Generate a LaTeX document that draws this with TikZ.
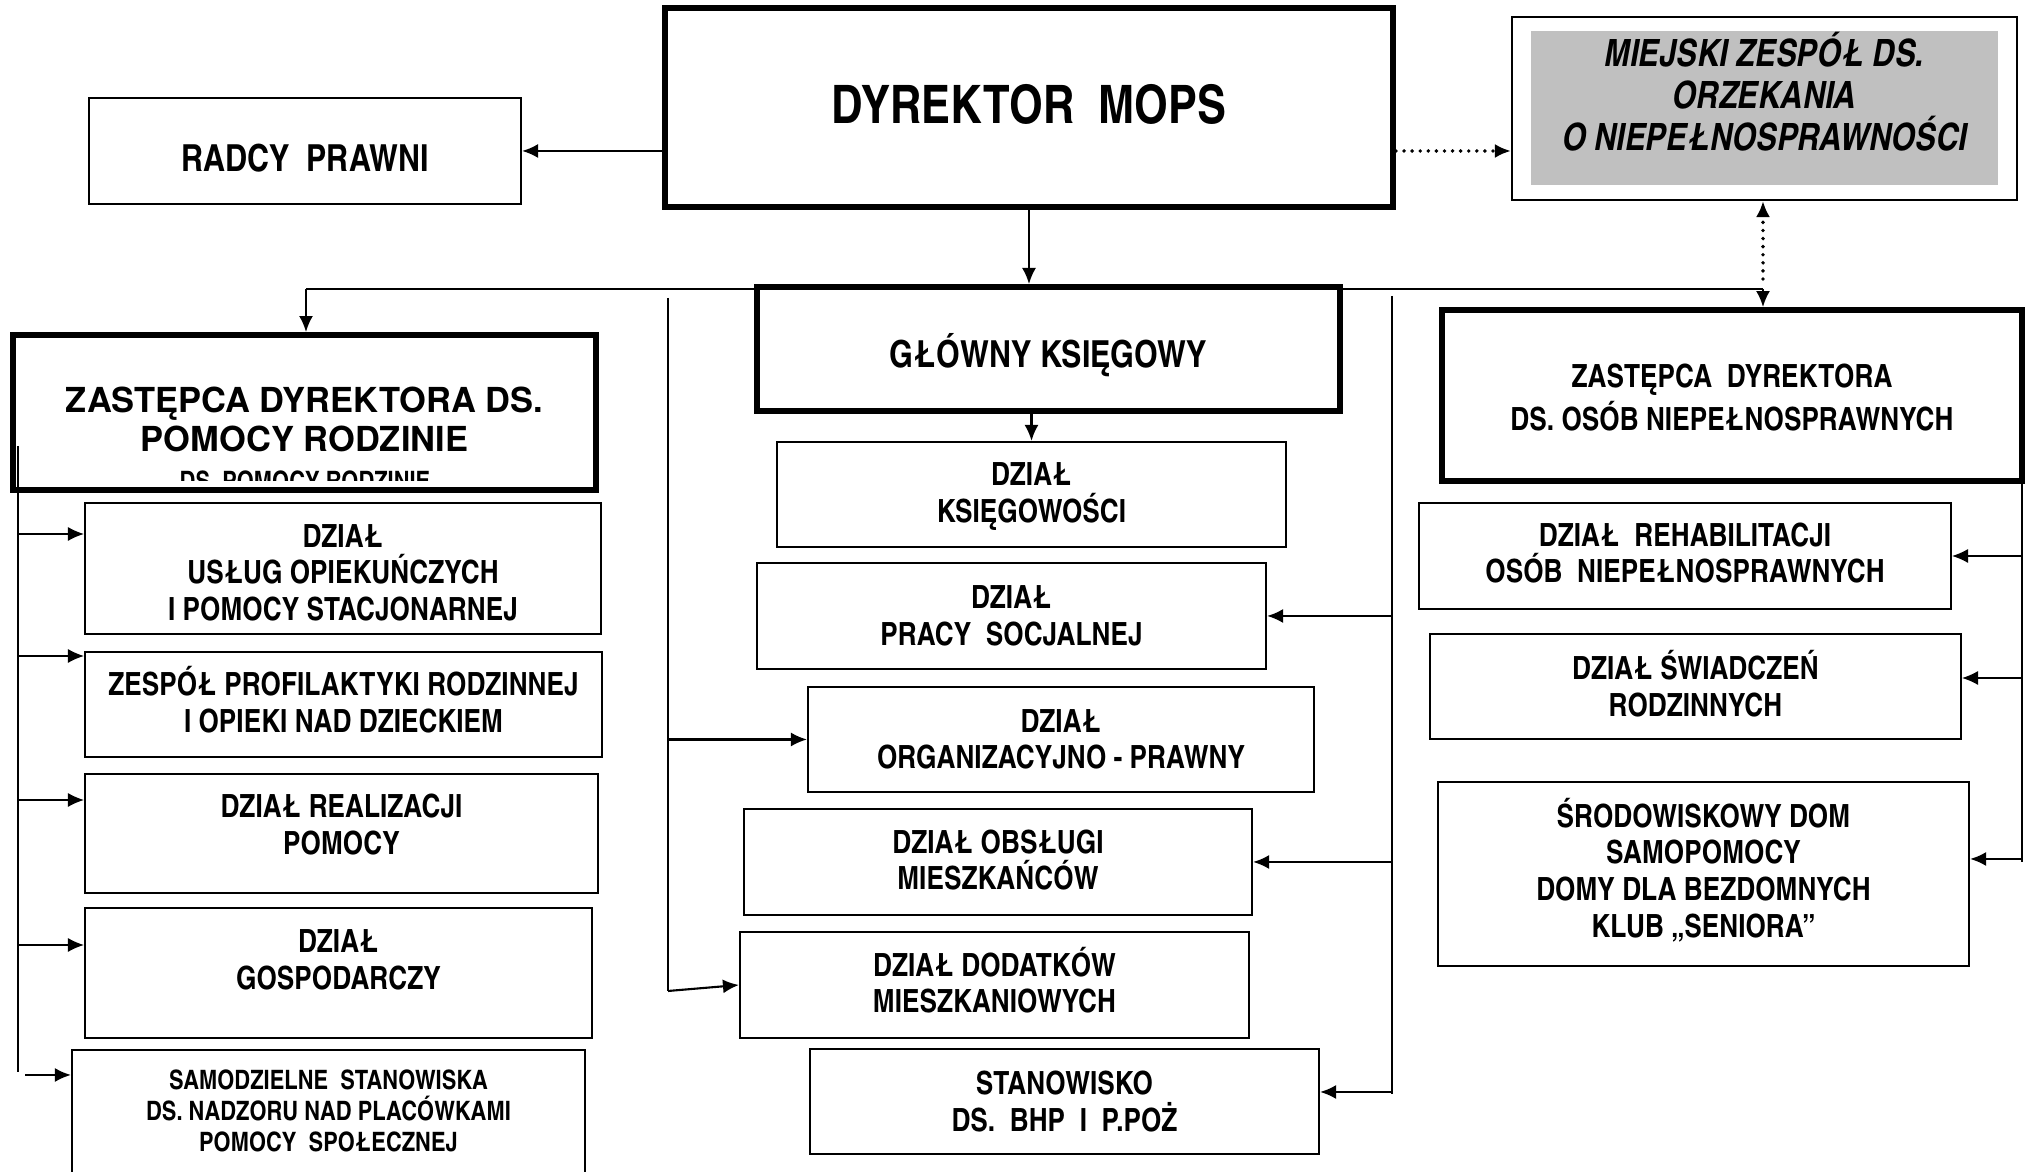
\documentclass[tikz,border=0pt]{standalone}
\usepackage{fontspec}
\setmainfont{texgyreheros}[Extension=.otf,UprightFont=*-regular,BoldFont=*-bold,ItalicFont=*-italic,BoldItalicFont=*-bolditalic]
\newfontfamily\cnfont{texgyreheroscn}[Extension=.otf,UprightFont=*-regular,BoldFont=*-bold,ItalicFont=*-italic,BoldItalicFont=*-bolditalic]
\usetikzlibrary{fit,arrows.meta}
\definecolor{panelgray}{RGB}{192,192,192}
\newcommand\txtnorm{\cnfont\bfseries\fontsize{9.1}{10.4}\selectfont}
\newcommand\txtmid{\cnfont\bfseries\fontsize{10.6}{12}\selectfont}
\newcommand\txtbig{\cnfont\bfseries\fontsize{15.1}{17}\selectfont}
\newcommand\txtsmall{\cnfont\bfseries\fontsize{7.6}{8.8}\selectfont}
\newcommand\txtwide{\bfseries\fontsize{9.8}{11.1}\selectfont}
\newcommand\txtital{\cnfont\bfseries\itshape\fontsize{10.7}{12}\selectfont}
\tikzset{
  box/.style={draw,line width=0.6pt,inner sep=0pt},
  bigbox/.style={box,line width=1.7pt},
  label text/.style={inner sep=0pt,align=center},
  every label/.style={label text,font=\txtnorm},
  link/.style={line width=0.6pt,->},
  thinlink/.style={line width=0.35pt,->},
  dotlink/.style={line width=1.1pt,dash pattern=on 0pt off 2.3pt,line cap=round,->}
}
\begin{document}
\begin{tikzpicture}[x=0.1mm,y=-0.1mm,>={Latex[length=1.6mm,width=1.4mm]}]
\useasboundingbox (0,0) rectangle (2026,1172);
\clip (0,0) rectangle (2026,1172);
\node[bigbox,fit={(665,8) (1393,207)},label={[yshift=0.3mm,font=\txtbig]center:{DYREKTOR~~MOPS}}] (dyr) {};
\node[box,fit={(89,98) (521,204)},label={[yshift=-0.7mm,font=\txtmid]center:{RADCY~~PRAWNI}}] (radcy) {};
\fill[panelgray] (1531,31) rectangle (1998,185);
\node[box,fit={(1512,17) (2017,200)},label={[yshift=1.7mm,font=\txtital]center:{MIEJSKI ZESPÓŁ DS.\\ORZEKANIA\\O NIEPEŁNOSPRAWNOŚCI}}] (miejski) {};
\node[bigbox,fit={(13,335) (596,490)},label={[yshift=-0.7mm,font=\txtwide]center:{ZASTĘPCA DYREKTORA DS.\\POMOCY RODZINIE}}] (zastpr) {};
\begin{scope}
\clip (150,465) rectangle (460,481);
\node[label text,font=\txtsmall,anchor=base] (zastprcut) at (305,491) {DS. POMOCY RODZINIE};
\end{scope}
\node[bigbox,fit={(757,287) (1340,411)},label={[yshift=-0.6mm,font=\txtmid]center:{GŁÓWNY KSIĘGOWY}}] (glowny) {};
\node[bigbox,fit={(1442,310) (2022,481)},label={[yshift=-0.2mm,font=\cnfont\bfseries\fontsize{9.1}{12.5}\selectfont]center:{ZASTĘPCA~~DYREKTORA\\DS. OSÓB NIEPEŁNOSPRAWNYCH}}] (zastnd) {};
\node[box,fit={(85,503) (601,634)},label={[yshift=-0.4mm]center:{DZIAŁ\\USŁUG OPIEKUŃCZYCH\\I POMOCY STACJONARNEJ}}] (uslug) {};
\node[box,fit={(85,652) (602,757)},label={[yshift=0.5mm]center:{ZESPÓŁ PROFILAKTYKI RODZINNEJ\\I OPIEKI NAD DZIECKIEM}}] (zesp) {};
\node[box,fit={(85,774) (598,893)},label={[yshift=0.9mm]center:{DZIAŁ REALIZACJI\\POMOCY}}] (real) {};
\node[box,fit={(85,908) (592,1038)},label={[yshift=1.3mm]center:{DZIAŁ\\GOSPODARCZY}}] (gosp) {};
\node[box,fit={(72,1050) (585,1180)},label={[yshift=0.4mm,font=\txtsmall]center:{SAMODZIELNE~~STANOWISKA\\DS. NADZORU NAD PLACÓWKAMI\\POMOCY~~SPOŁECZNEJ}}] (samodz) {};
\node[box,fit={(777,442) (1286,547)},label={[yshift=-0.2mm]center:{DZIAŁ\\KSIĘGOWOŚCI}}] (ksieg) {};
\node[box,fit={(757,563) (1266,669)},label={center:{DZIAŁ\\PRACY~~SOCJALNEJ}}] (pracy) {};
\node[box,fit={(808,687) (1314,792)},label={center:{DZIAŁ\\ORGANIZACYJNO - PRAWNY}}] (org) {};
\node[box,fit={(744,809) (1252,915)},label={[yshift=0.2mm]center:{DZIAŁ OBSŁUGI\\MIESZKAŃCÓW}}] (obsl) {};
\node[box,fit={(740,932) (1249,1038)},label={[yshift=0.5mm]center:{DZIAŁ DODATKÓW\\MIESZKANIOWYCH}}] (dod) {};
\node[box,fit={(810,1049) (1319,1154)},label={center:{STANOWISKO\\DS.~~BHP~~I~~P.POŻ}}] (stan) {};
\node[box,fit={(1419,503) (1951,609)},label={[yshift=0.3mm]center:{DZIAŁ~~REHABILITACJI\\OSÓB~~NIEPEŁNOSPRAWNYCH}}] (rehab) {};
\node[box,fit={(1430,634) (1961,739)},label={[yshift=0.3mm]center:{DZIAŁ ŚWIADCZEŃ\\RODZINNYCH}}] (swiad) {};
\node[box,fit={(1438,782) (1969,966)},label={[yshift=0.4mm]center:{ŚRODOWISKOWY DOM\\SAMOPOMOCY\\DOMY DLA BEZDOMNYCH\\KLUB „SENIORA”}}] (srod) {};
\draw[link] (radcy.east -| dyr.west) -- (radcy.east);
\draw[dotlink] (dyr.east |- radcy.east) -- (miejski.west |- radcy.east);
\draw[link] (dyr.south) -- (dyr.south |- glowny.north);
\coordinate (busL) at (306,289);
\coordinate (busR) at (1763,289);
\draw[line width=0.6pt] (busL) -- (busR);
\draw[link] (busL) -- (busL |- zastpr.north);
\draw[link] (busR) -- (busR |- zastnd.north);
\draw[dotlink] ([yshift=1mm]busR) -- (busR |- miejski.south);
\draw[link] (ksieg.north |- glowny.south) -- (ksieg.north);
\coordinate (lsTop) at (18,446);
\coordinate (lsEnd) at (18,1072);
\draw[line width=0.6pt] (lsTop) -- (lsEnd);
\foreach \nm/\yy in {uslug/534,zesp/656,real/800,gosp/945}{
  \coordinate (ls-\nm) at (18,\yy);
  \draw[thinlink] (ls-\nm) -- (ls-\nm -| \nm.west);
}
\coordinate (ls-samodz) at (25,1075);
\draw[link] (ls-samodz) -- (ls-samodz -| samodz.west);
\coordinate (clTop) at (668,298);
\coordinate (clEnd) at (668,991);
\draw[line width=0.6pt] (clTop) -- (clEnd);
\draw[link] (clTop |- org.west) -- (org.west);
\draw[link] (clEnd) -- (dod.west);
\coordinate (crTop) at (1392,296);
\coordinate (crEnd) at (1392,1094);
\draw[line width=0.6pt] (crTop) -- (crEnd);
\draw[link] (crTop |- pracy.east) -- (pracy.east);
\draw[link] (crTop |- obsl.east) -- (obsl.east);
\coordinate (cr-stan) at (1392,1092);
\draw[link] (cr-stan) -- (cr-stan -| stan.east);
\coordinate (rsEnd) at (2022,862);
\draw[line width=0.6pt] (zastnd.south -| rsEnd) -- (rsEnd);
\draw[thinlink] (rsEnd |- rehab.east) -- (rehab.east);
\coordinate (rs-swiad) at (2022,678);
\draw[thinlink] (rs-swiad) -- (rs-swiad -| swiad.east);
\coordinate (rs-srod) at (2022,859);
\draw[link] (rs-srod) -- (rs-srod -| srod.east);
\end{tikzpicture}
\end{document}
